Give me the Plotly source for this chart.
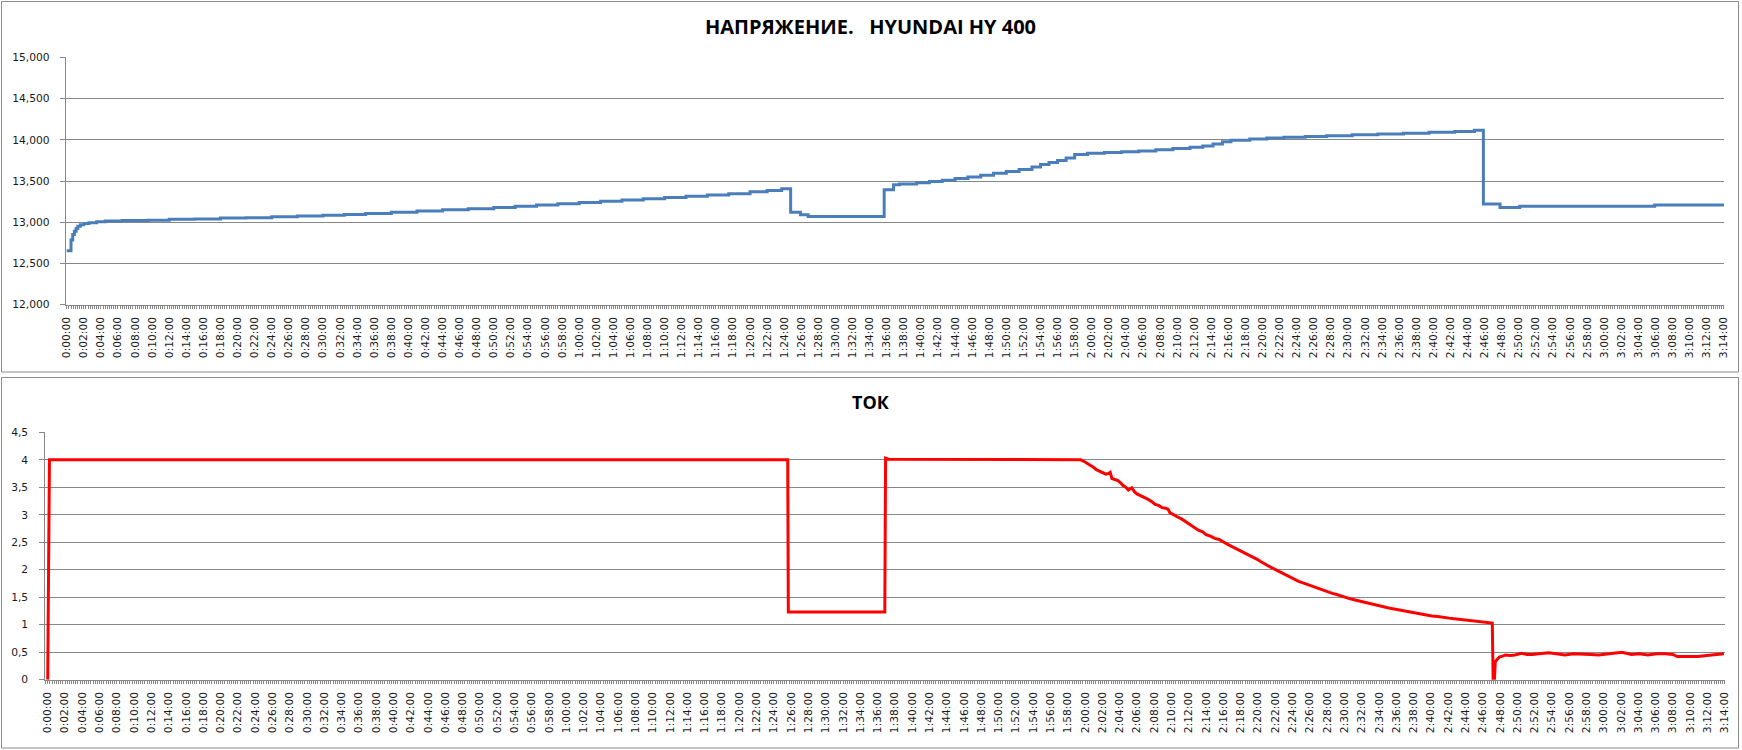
import plotly.graph_objects as go

# ---------------- data (time in minutes from start) ----------------
volt_minutes = [0.0, 0.5, 0.7, 0.9, 1.1, 1.3, 1.6, 2.0, 2.6, 3.5, 4.5, 6.5, 9.5, 12.0, 15.0,
                18.0, 21.0, 24.0, 27.0, 30.0, 32.5, 35.0, 38.0, 41.0, 44.0, 47.0, 50.0, 52.5,
                55.0, 57.5, 60.0, 62.5, 65.0, 67.5, 70.0, 72.5, 75.0, 77.5, 80.0, 82.0, 83.7,
                84.75, 85.9, 86.8, 95.7, 96.8, 97.5, 99.5, 101.0, 102.5, 104.0, 105.5, 107.0,
                108.5, 110.0, 111.5, 113.0, 114.0, 115.0, 116.0, 117.0, 118.0, 119.5, 121.5,
                123.5, 125.5, 127.5, 129.5, 131.5, 133.0, 134.2, 135.3, 136.3, 138.5, 140.5,
                142.5, 145.0, 147.5, 150.5, 153.5, 156.5, 159.5, 162.5, 164.8, 165.85, 167.8,
                170.1, 185.9, 194.1]
volt_values = [12.655, 12.785, 12.85, 12.89, 12.925, 12.95, 12.97, 12.985, 12.995, 13.005,
               13.015, 13.02, 13.025, 13.035, 13.04, 13.05, 13.055, 13.065, 13.075, 13.085,
               13.095, 13.105, 13.12, 13.135, 13.15, 13.165, 13.18, 13.195, 13.21, 13.225,
               13.24, 13.255, 13.27, 13.285, 13.30, 13.315, 13.33, 13.345, 13.37, 13.385,
               13.405, 13.12, 13.09, 13.07, 13.395, 13.455, 13.465, 13.48, 13.495, 13.51,
               13.53, 13.55, 13.57, 13.595, 13.615, 13.64, 13.67, 13.70, 13.725, 13.75,
               13.78, 13.82, 13.835, 13.845, 13.855, 13.865, 13.88, 13.895, 13.91, 13.925,
               13.95, 13.975, 13.995, 14.01, 14.02, 14.03, 14.04, 14.05, 14.06, 14.07, 14.08,
               14.09, 14.10, 14.115, 13.22, 13.18, 13.195, 13.21, 13.21]

cur_minutes = [0.0, 0.2, 85.6, 85.67, 96.83, 96.92, 97.25, 119.5,
               120.0, 120.3, 120.7, 121.0, 121.3, 121.7, 122.0, 122.4, 122.7, 122.9, 123.1,
               123.5, 123.8, 124.1, 124.4, 124.7, 125.0, 125.4, 125.7, 126.0, 126.4, 126.8,
               127.3, 127.7, 128.1, 128.5, 128.9, 129.3, 129.6, 129.8, 130.2, 130.7, 131.2,
               131.6, 132.1, 132.6, 133.1, 133.6, 134.0, 134.5, 135.0, 135.5, 136.0, 136.5,
               137.0, 137.5, 138.0, 138.5, 138.9, 139.4, 139.9, 140.3, 140.8, 141.3, 141.8,
               142.3, 142.8, 143.3, 143.8, 144.2, 144.7, 145.2, 145.7, 146.1, 146.6, 147.1,
               147.6, 148.1, 148.6, 149.1, 149.6, 150.0, 150.5, 151.0, 151.5, 152.0, 152.4,
               153.0, 153.5, 154.0, 154.4, 155.0, 155.6, 156.3, 157.0, 157.6, 158.2, 158.8,
               159.5, 160.1, 160.8, 161.4, 162.1, 162.7, 163.3, 164.0, 164.6, 165.2, 165.9,
               166.5, 167.1, 167.2, 167.35, 167.45, 167.9, 168.3, 168.6, 169.2, 169.7, 170.5,
               171.1, 171.7, 172.6, 173.6, 174.5, 175.5, 176.5, 177.5, 178.5, 179.4, 180.3,
               181.3, 182.1, 183.2, 184.1, 185.1, 186.1, 187.1, 188.0, 188.5, 189.0, 190.0,
               190.9, 191.9, 192.9, 193.9]
cur_values = [0.0, 4.0, 4.0, 1.23, 1.23, 4.03, 4.01, 4.0,
              3.96, 3.93, 3.90, 3.86, 3.82, 3.79, 3.78, 3.74, 3.75, 3.77, 3.66,
              3.64, 3.62, 3.58, 3.53, 3.50, 3.45, 3.49, 3.42, 3.38, 3.35, 3.33,
              3.28, 3.24, 3.19, 3.17, 3.13, 3.12, 3.10, 3.04, 3.00, 2.96, 2.92,
              2.88, 2.82, 2.78, 2.72, 2.69, 2.64, 2.61, 2.57, 2.55, 2.50, 2.46,
              2.42, 2.38, 2.35, 2.30, 2.27, 2.24, 2.19, 2.15, 2.10, 2.06, 2.02,
              1.98, 1.93, 1.89, 1.86, 1.82, 1.79, 1.76, 1.73, 1.71, 1.69, 1.66,
              1.63, 1.60, 1.57, 1.55, 1.52, 1.50, 1.48, 1.46, 1.44, 1.42, 1.41,
              1.38, 1.36, 1.34, 1.33, 1.31, 1.29, 1.27, 1.25, 1.23, 1.21, 1.20,
              1.18, 1.16, 1.15, 1.13, 1.12, 1.11, 1.10, 1.09, 1.07, 1.07, 1.05,
              1.04, 1.03, 0.0, 0.0, 0.33, 0.41, 0.43, 0.45, 0.44, 0.45, 0.48,
              0.46, 0.46, 0.48, 0.49, 0.47, 0.45, 0.47, 0.47, 0.46, 0.45, 0.47,
              0.48, 0.50, 0.46, 0.47, 0.45, 0.47, 0.47, 0.46, 0.42, 0.42, 0.43,
              0.42, 0.44, 0.45, 0.47]

x_tick_minutes = list(range(0, 195, 2))
x_tick_labels = [f"{m // 60}:{m % 60:02d}:00" for m in x_tick_minutes]

title_top = "НАПРЯЖЕНИЕ.\u00a0\u00a0\u00a0HYUNDAI HY 400"
title_bottom = "ТОК"

# ---------------- figure ----------------
W, H = 1742, 750
GRID = "#878787"
TXT = "#1a1a1a"


def px_x(p):
    return p / W


def px_y(p):
    return (H - p) / H


fig = go.Figure()
fig.add_trace(go.Scatter(x=volt_minutes, y=volt_values, mode="lines",
                         line=dict(color="#4a7ebb", width=3, shape="hv"),
                         xaxis="x", yaxis="y", showlegend=False))
fig.add_trace(go.Scatter(x=cur_minutes, y=cur_values, mode="lines",
                         line=dict(color="#ff0000", width=3),
                         xaxis="x2", yaxis="y2", showlegend=False))

tickfont = dict(family="DejaVu Sans", size=10.7, color=TXT)

xaxis_common = dict(tickmode="array", tickvals=x_tick_minutes, ticktext=x_tick_labels,
                    tickangle=-90, tickfont=tickfont, showgrid=False, zeroline=False,
                    showline=True, linecolor=GRID, linewidth=1,
                    ticks="outside", ticklen=3, tickcolor=GRID, tickwidth=1,
                    minor=dict(dtick=0.25, tick0=0, ticks="outside", ticklen=3,
                               tickcolor=GRID, tickwidth=1, showgrid=False),
                    ticklabelstandoff=4, automargin=False)

fig.update_layout(
    width=W, height=H,
    margin=dict(l=0, r=0, t=0, b=0, autoexpand=False),
    paper_bgcolor="white", plot_bgcolor="white",
    separators=", ",
    xaxis=dict(domain=[px_x(65.7), px_x(1724)], range=[-0.12, 194.02], anchor="y",
               **xaxis_common),
    yaxis=dict(domain=[px_y(304.7), px_y(57.3)], range=[12, 15], dtick=0.5, tick0=12,
               tickformat=".3f", tickfont=tickfont, showgrid=True, gridcolor=GRID,
               gridwidth=1, zeroline=False, showline=True, linecolor=GRID, linewidth=1,
               ticks="outside", ticklen=5, tickcolor=GRID, anchor="x",
               ticklabelstandoff=8, automargin=False),
    xaxis2=dict(domain=[px_x(45.3), px_x(1725)], range=[-0.28, 194.02], anchor="y2",
                **xaxis_common),
    yaxis2=dict(domain=[px_y(679.7), px_y(432.3)], range=[0, 4.5], dtick=0.5, tick0=0,
                tickfont=tickfont, showgrid=True, gridcolor=GRID, gridwidth=1,
                zeroline=False, showline=True, linecolor=GRID, linewidth=1,
                ticks="outside", ticklen=5, tickcolor=GRID, anchor="x2",
                ticklabelstandoff=9, automargin=False),
    shapes=[
        dict(type="rect", xref="paper", yref="paper", x0=px_x(1.5), x1=px_x(1738.5),
             y0=px_y(372), y1=px_y(1.5), line=dict(color="#8c8c8c", width=1)),
        dict(type="rect", xref="paper", yref="paper", x0=px_x(1.5), x1=px_x(1738.5),
             y0=px_y(748), y1=px_y(377.5), line=dict(color="#8c8c8c", width=1)),
    ],
    annotations=[
        dict(text=f"<b>{title_top}</b>", xref="paper", yref="paper", x=px_x(870),
             y=px_y(26.5), xanchor="center", yanchor="middle", showarrow=False,
             font=dict(family="Open Sans", size=20, color="#000000")),
        dict(text=f"<b>{title_bottom}</b>", xref="paper", yref="paper", x=px_x(871),
             y=px_y(401.5), xanchor="center", yanchor="middle", showarrow=False,
             font=dict(family="Open Sans", size=18, color="#000000")),
    ],
)

fig.write_html("out.html", config={"displayModeBar": False},
               post_script="document.body.style.margin='0';document.body.style.overflow='hidden';")
